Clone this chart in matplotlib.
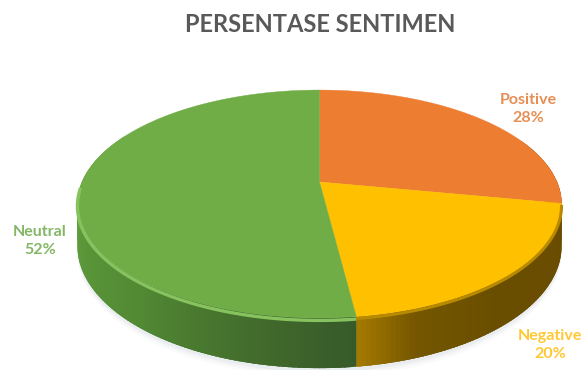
import numpy as np
import matplotlib
matplotlib.use("Agg")
import matplotlib.pyplot as plt

labels = ["Positive", "Negative", "Neutral"]
percents = [28, 20, 52]
colors = ["#ED7D31", "#FFC000", "#70AD47"]
title = "PERSENTASE SENTIMEN"

# side wall shades: (degrees clockwise from the top, colour)
side_shades = [
    [(72, "#9a4e14"), (100.8, "#8a4510")],
    [(100.8, "#6a4c00"), (140, "#6a4e00"), (160, "#745600"), (172.8, "#a87c00")],
    [(172.8, "#375a2a"), (190, "#41692b"), (220, "#528a34"), (260, "#5f9e3c"), (290, "#68a842")],
]

CX, CY = 319.5, 182
A, B, K = 237.5, 109.7, 0.193
H = 40.5


def project(theta, drop=0.0):
    # disc coordinates to pixels, the near edge is drawn larger
    u = np.sin(theta)
    v = -np.cos(theta)
    w = 1 - K * v
    return CX + A * u / w, CY + (B * v + drop) / w


def shade_at(stops, deg):
    angles = [s[0] for s in stops]
    rgb = np.array([matplotlib.colors.to_rgb(s[1]) for s in stops])
    return [np.interp(deg, angles, rgb[:, i]) for i in range(3)]


fig = plt.figure(figsize=(5.83, 3.70), dpi=100)
ax = fig.add_axes([0, 0, 1, 1])
ax.set_xlim(0, 583)
ax.set_ylim(370, 0)
ax.axis("off")

# soft shadow under the disc
t = np.radians(np.linspace(80, 280, 200))
for off, alpha in [(7, 0.03), (5, 0.05), (3, 0.08)]:
    x, y = project(t, H + off)
    ax.fill(np.r_[x, x[::-1]], np.r_[y, y[::-1] - 40], color="#8090a0", alpha=alpha, lw=0)

edges = np.cumsum([0] + percents) * 3.6

# side wall, strips overlap the next one so no seams show
for i in range(len(percents)):
    start, end = edges[i], edges[i + 1]
    steps = np.arange(start, end, 1.0)
    steps = steps[(steps > 65) & (steps < 295)]
    for deg in steps:
        d2 = min(deg + 2.5, end)
        tt = np.radians(np.linspace(deg, d2, 4))
        x0, y0 = project(tt)
        x1, y1 = project(tt, H)
        c = shade_at(side_shades[i], deg)
        ax.fill(np.r_[x0, x1[::-1]], np.r_[y0, y1[::-1]], color=c, lw=0)

# top face
for i in range(len(percents)):
    tt = np.radians(np.linspace(edges[i], edges[i + 1], 200))
    x, y = project(tt)
    ax.fill(np.r_[CX, x], np.r_[CY, y], color=colors[i], lw=0.3, ec=colors[i])

# bevel along the rim
tt = np.radians(np.linspace(edges[2], 268, 120))
x, y = project(tt, 2.0)
ax.plot(x, y, color="#86c25e", lw=2.4, solid_capstyle="butt")
tt = np.radians(np.linspace(edges[1], edges[2], 60))
x, y = project(tt, 1.5)
ax.plot(x, y, color="#b88a00", lw=2.2, solid_capstyle="butt")

ax.text(320, 24, title, ha="center", va="center", family="Lato", weight="bold",
        fontsize=17, color="#595959")

label_pos = [(528, 109), (550, 345), (40, 241)]
label_cols = ["#E68F55", "#FFC833", "#84B765"]
for i in range(len(labels)):
    ax.text(label_pos[i][0], label_pos[i][1], f"{labels[i]}\n{percents[i]}%",
            ha="center", va="center", family="Lato", weight="bold", fontsize=11.5,
            color=label_cols[i], linespacing=1.4)

fig.savefig("out.png", dpi=100)
